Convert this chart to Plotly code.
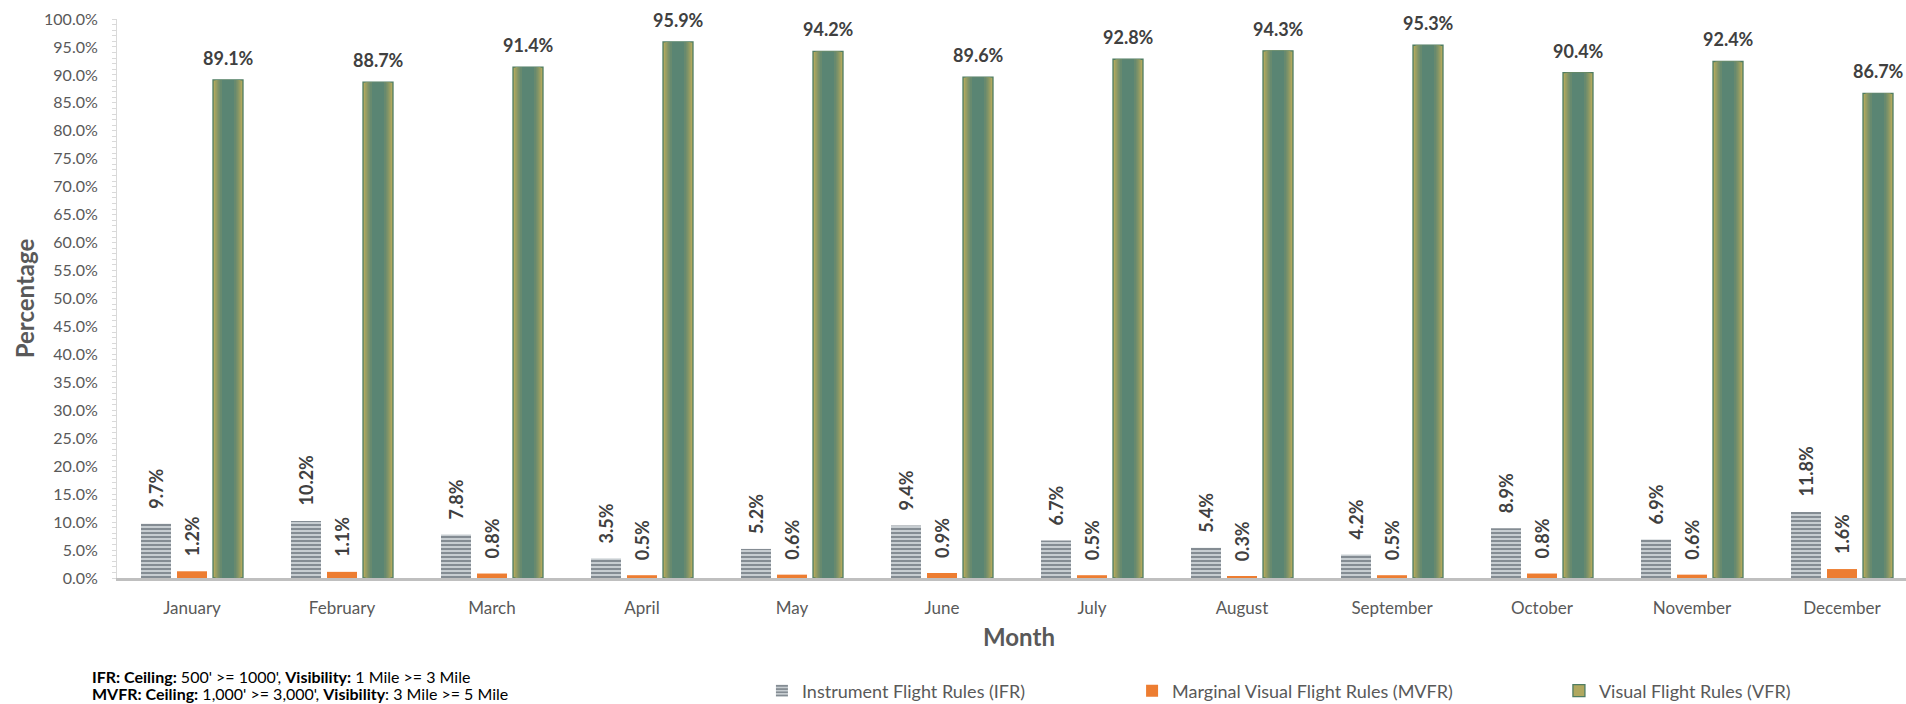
import plotly.graph_objects as go

# Monthly flight-category frequencies (percent of observations)
months = ["January", "February", "March", "April", "May", "June",
          "July", "August", "September", "October", "November", "December"]
ifr = [9.7, 10.2, 7.8, 3.5, 5.2, 9.4, 6.7, 5.4, 4.2, 8.9, 6.9, 11.8]
mvfr = [1.2, 1.1, 0.8, 0.5, 0.6, 0.9, 0.5, 0.3, 0.5, 0.8, 0.6, 1.6]
vfr = [89.1, 88.7, 91.4, 95.9, 94.2, 89.6, 92.8, 94.3, 95.3, 90.4, 92.4, 86.7]

series_names = ["Instrument Flight Rules (IFR)",
                "Marginal Visual Flight Rules (MVFR)",
                "Visual Flight Rules (VFR)"]

FONT = "Lato"
AXIS_GREY = "#595959"
LABEL_GREY = "#404040"

# bar layout inside one month slot (category units)
BAR_W = 0.2
OFFSETS = [-0.34, -0.10, 0.14]
CAT_PX = 150  # pixel width of one category with the chosen range

fig = go.Figure()

# IFR: striped grey bars
fig.add_trace(go.Bar(
    x=months, y=ifr, name=series_names[0], legend="legend",
    offset=OFFSETS[0], width=BAR_W,
    marker=dict(color="#3a434d", line=dict(width=0),
                pattern=dict(shape="-", fgcolor="#3a434d", bgcolor="#cfd4d8",
                             size=4, solidity=0.55)),
))

# MVFR: orange bars
fig.add_trace(go.Bar(
    x=months, y=mvfr, name=series_names[1], legend="legend2",
    offset=OFFSETS[1], width=BAR_W,
    marker=dict(color="#ed7d31", line=dict(width=0)),
))

# VFR: olive outer bar with a teal core built from stacked narrower layers
fig.add_trace(go.Bar(
    x=months, y=vfr, name=series_names[2], legend="legend3",
    offset=OFFSETS[2], width=BAR_W,
    marker=dict(color="#b0a85f", line=dict(color="#4f7d62", width=1.3)),
))
vfr_center = OFFSETS[2] + BAR_W / 2
for frac, col in [(0.84, "#959c62"), (0.70, "#7d9268"),
                  (0.56, "#688a6e"), (0.40, "#5a8573")]:
    w = BAR_W * frac
    fig.add_trace(go.Bar(
        x=months, y=vfr, showlegend=False, hoverinfo="skip",
        offset=vfr_center - w / 2, width=w,
        marker=dict(color=col, line=dict(width=0)),
    ))

# value labels
annotations = []
label_font = dict(family=FONT, size=18, color=LABEL_GREY)
for i, m in enumerate(months):
    for k, (vals, rot, shift) in enumerate([(ifr, -90, 13), (mvfr, -90, 13), (vfr, 0, 9)]):
        v = vals[i]
        xshift = (OFFSETS[k] + BAR_W / 2) * CAT_PX
        annotations.append(dict(
            x=m, y=v, xref="x", yref="y",
            text=f"<b>{v:.1f}%</b>", showarrow=False,
            textangle=rot, xanchor="center", yanchor="bottom",
            xshift=xshift, yshift=shift, font=label_font,
        ))

# x axis title
annotations.append(dict(
    x=0.5042, y=-0.1038, xref="paper", yref="paper",
    text="<b>Month</b>", showarrow=False, xanchor="center", yanchor="middle",
    font=dict(family=FONT, size=24, color=AXIS_GREY),
))

# footnote with flight-category definitions
foot_font = dict(family=FONT, size=16, color="#000000")
annotations.append(dict(
    x=-0.0151, y=-0.1771, xref="paper", yref="paper", xanchor="left", yanchor="middle",
    text="<b>IFR: Ceiling:</b> 500' &gt;= 1000', <b>Visibility:</b> 1 Mile &gt;= 3 Mile",
    showarrow=False, font=foot_font,
))
annotations.append(dict(
    x=-0.0151, y=-0.2075, xref="paper", yref="paper", xanchor="left", yanchor="middle",
    text="<b>MVFR: Ceiling:</b> 1,000' &gt;= 3,000', <b>Visibility</b>: 3 Mile &gt;= 5 Mile",
    showarrow=False, font=foot_font,
))

legend_style = dict(
    orientation="h", y=-0.2021, xanchor="left", yanchor="middle",
    font=dict(family=FONT, size=18, color=AXIS_GREY),
    bgcolor="rgba(0,0,0,0)",
)

fig.update_layout(
    width=1906, height=704,
    margin=dict(l=117, r=0, t=19, b=126, autoexpand=False),
    paper_bgcolor="white", plot_bgcolor="white",
    barmode="overlay",
    font=dict(family=FONT, color=AXIS_GREY),
    annotations=annotations,
    legend=dict(x=0.3605, **legend_style),
    legend2=dict(x=0.5674, **legend_style),
    legend3=dict(x=0.8060, **legend_style),
)

fig.update_xaxes(
    type="category", range=[-0.5, 11.4267],
    showline=True, linecolor="#bfbfbf", linewidth=3,
    ticks="", showgrid=False, zeroline=False,
    tickfont=dict(family=FONT, size=17, color=AXIS_GREY),
    ticklabelstandoff=13,
)

fig.update_yaxes(
    range=[0, 100], dtick=5, tickformat=".1f", ticksuffix="%",
    showline=True, linecolor="#d9d9d9", linewidth=1,
    ticks="outside", ticklen=4, tickcolor="#d9d9d9",
    minor=dict(dtick=1, ticks="outside", ticklen=4, tickcolor="#d9d9d9"),
    showgrid=False, zeroline=False,
    tickfont=dict(family=FONT, size=16, color=AXIS_GREY),
    ticklabelstandoff=11,
    title=dict(text="<b>Percentage</b>", standoff=2,
               font=dict(family=FONT, size=24, color=AXIS_GREY)),
)

fig.write_html("out.html")
